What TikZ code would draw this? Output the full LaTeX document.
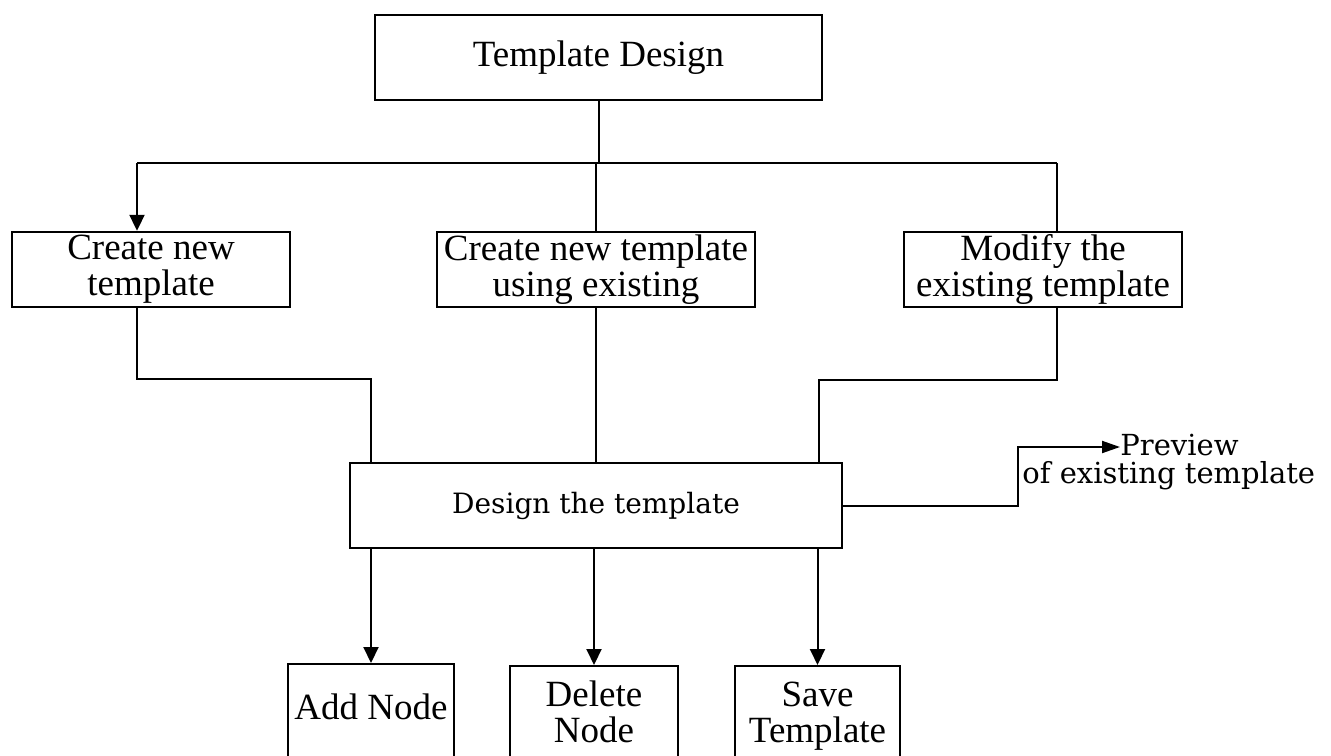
\documentclass[tikz,border=0pt]{standalone}
\usepackage{fontspec}
\setmainfont{Liberation Serif}
\newfontfamily\centfont{DejaVu Serif}
\usetikzlibrary{arrows.meta}
\begin{document}
\begin{tikzpicture}[x=0.5pt,y=-0.5pt,
  boxstyle/.style={draw, line width=1.2pt, inner sep=0pt, align=center,
    font=\fontsize{18.5}{18}\selectfont},
  lowbox/.style={draw, line width=1.2pt, inner sep=0pt, anchor=north,
    text depth=60pt, font=\fontsize{18.5}{18}\selectfont},
  conn/.style={line width=1pt},
  arr/.style={line width=1pt, -{Triangle[length=8pt,width=7.5pt]}},
  parr/.style={line width=1pt, -{Triangle[length=9pt,width=6pt]}},
  ctext/.style={inner sep=0pt, anchor=base west, font=\centfont\fontsize{14.5}{14.5}\selectfont}]
\useasboundingbox (0,0) rectangle (1331,755);
\clip (0,0) rectangle (1331,755);

\node[boxstyle, minimum width=223.5pt, minimum height=42.5pt] (T) at (598.5,57.5) {Template Design};
\node[boxstyle, minimum width=139pt, minimum height=37.5pt] (L) at (151,269.5) {Create new\\template};
\node[boxstyle, minimum width=159pt, minimum height=37.5pt] (M) at (596,269.5) {Create new template\\using existing};
\node[boxstyle, minimum width=139pt, minimum height=37.5pt] (R) at (1043,269.5) {Modify the\\existing template};
\node[boxstyle, minimum width=246pt, minimum height=42.5pt, font=\centfont\fontsize{14}{14}\selectfont] (D) at (596,505.5) {Design the template};

\node[lowbox, minimum width=83pt, text height=27.5pt] (A) at (371,663) {Add Node};
\node[lowbox, minimum width=84pt, text height=20pt] (X) at (594,665) {\begin{tabular}[t]{@{}c@{}}Delete\\Node\end{tabular}};
\node[lowbox, minimum width=82.5pt, text height=20pt] (S) at (817.5,665) {\begin{tabular}[t]{@{}c@{}}Save\\Template\end{tabular}};

\node[ctext] (P) at (1120,455) {Preview};
\node[ctext] (Q) at (1022,483) {of existing template};

\coordinate (hl) at (137,163);
\coordinate (hr) at (1057,163);
\draw[conn] (T.south) -- (T.south |- hl);
\draw[conn] (hr) -- (hl);
\draw[arr] (hl) -- (hl |- L.north);
\draw[conn] (M.north) -- (M.north |- hl);
\draw[conn] (hr) -- (hr |- R.north);

\coordinate (lb) at (137,379);
\coordinate (lc) at (371,379);
\draw[conn] (hl |- L.south) -- (lb) -- (lc) -- (lc |- D.north);
\draw[conn] (M.south) -- (M.south |- D.north);
\coordinate (rb) at (1057,380);
\coordinate (rc) at (819,380);
\draw[conn] (rb |- R.south) -- (rb) -- (rc) -- (rc |- D.north);

\coordinate (pc) at (1018,447);
\draw[parr] (D.east) -- (D.east -| pc) -- (pc) -- (pc -| P.west);

\draw[arr] (A.north |- D.south) -- (A.north);
\draw[arr] (X.north |- D.south) -- (X.north);
\draw[arr] (S.north |- D.south) -- (S.north);
\end{tikzpicture}
\end{document}
